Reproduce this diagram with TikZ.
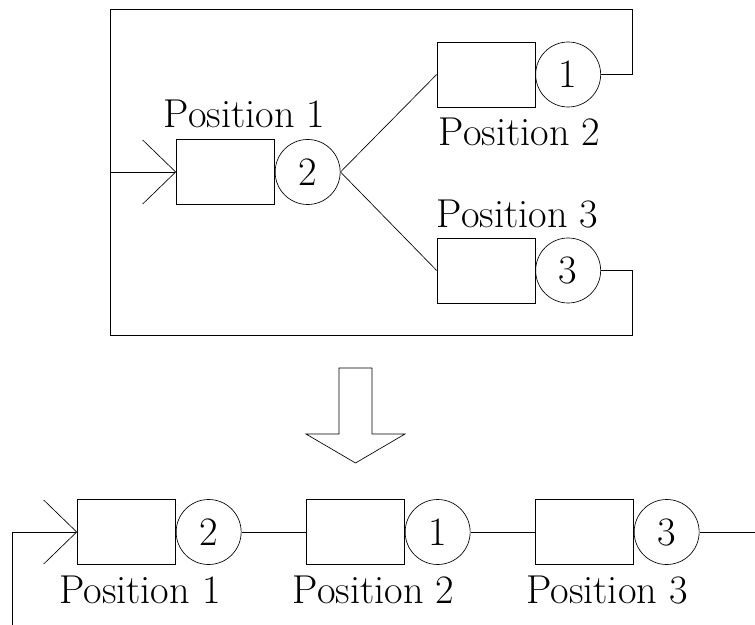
\documentclass[tikz,border=0pt]{standalone}
\usetikzlibrary{arrows.meta}
\begin{document}
\begin{tikzpicture}[x=0.6pt, y=-0.6pt,
		font=\fontsize{24.2pt}{29pt}\selectfont,
		buffer/.style={draw, rectangle, inner sep=0pt, minimum width=58.8pt, minimum height=39pt},
		server/.style={draw, circle, inner sep=0pt, minimum size=39pt, anchor=west},
		flow/.style={-{Straight Barb[length=19.8pt, width=38.4pt]}}]
			\useasboundingbox (0,0) rectangle (755,625);
			% network with routing
			\node[buffer] (q1) at (225.5,172) {};
			\node[server] (s1) at (q1.east) {2};
			\node[buffer] (q2) at (486,74.5) {};
			\node[server] (s2) at (q2.east) {1};
			\node[buffer] (q3) at (486,270.5) {};
			\node[server] (s3) at (q3.east) {3};
			\node[anchor=base] (n1) at (244.5,128) {Position 1};
			\node[anchor=base] (n2) at (519.5,146) {Position 2};
			\node[anchor=base] (n3) at (517.5,228) {Position 3};
			\coordinate (tl) at (110,9);
			\coordinate (br) at (632,335);
			\coordinate (in) at (tl |- q1);
			\draw[flow] (in) -- (q1.west);
			\draw (s1.east) -- (q2.west);
			\draw (s1.east) -- (q3.west);
			\draw (s2.east) -| (br |- tl) -- (tl) -- (tl |- br) -- (br) |- (s3.east);

			% big arrow
			\draw (339,368) -- (372,368) -- (372,434) -- (405,434) -- (355.5,463)
				-- (306,434) -- (339,434) -- cycle;

			% tandem line
			\foreach \i/\j in {1/2,2/1,3/3}{
				\node[buffer] (b\i) at (126.5+229*\i-229, 532) {};
				\node[server] (r\i) at (b\i.east) {\j};
				\node[anchor=base] (p\i) at (140+233.5*\i-233.5, 603) {Position \i};
			}
			\draw (r1) -- (b2);
			\draw (r2) -- (b3);
			\coordinate (start) at (12,625);
			\coordinate (out) at (755,532);
			\draw[flow] (start) |- (b1.west);
			\draw (r3) -- (out);

		\end{tikzpicture}
\end{document}
